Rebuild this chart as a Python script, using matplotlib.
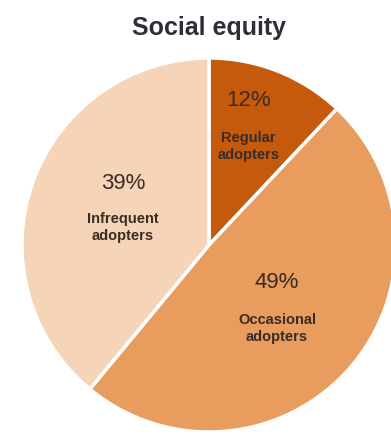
import matplotlib
matplotlib.use("Agg")
import matplotlib.pyplot as plt

# data
labels = ["Regular\nadopters", "Occasional\nadopters", "Infrequent\nadopters"]
shares = [12, 49, 39]
colors = ["#C65A0C", "#E89C5E", "#F6D4B8"]

plt.rcParams['font.family'] = ['Liberation Sans', 'DejaVu Sans']

fig = plt.figure(figsize=(3.91, 4.36), dpi=100)
ax = fig.add_axes([22/391, 4/436, 374/391, 374/436])

wedges, _ = ax.pie(shares, colors=colors, startangle=90, counterclock=False,
                   radius=1, wedgeprops=dict(edgecolor="white", linewidth=2.5))
ax.set_xlim(-1, 1)
ax.set_ylim(-1, 1)
ax.set_aspect("equal")
ax.axis("off")

# label positions (pie coords)
pct_pos = [(0.21, 0.775), (0.364, -0.203), (-0.46, 0.33)]
txt_pos = [(0.21, 0.525), (0.364, -0.445), (-0.46, 0.095)]
for s, lab, (px, py), (tx, ty) in zip(shares, labels, pct_pos, txt_pos):
    ax.text(px, py, f"{s}%", ha="center", va="center", fontsize=16,
            color="#3a2c24")
    ax.text(tx, ty, lab, ha="center", va="center", fontsize=10.5,
            fontweight="bold", color="#3a2c24", linespacing=1.3)

fig.text(209/391, 1 - 28/436, "Social equity", ha="center", va="center",
         fontsize=18, fontweight="bold", color="#2b2f3a")

fig.savefig("out.png", dpi=100)
